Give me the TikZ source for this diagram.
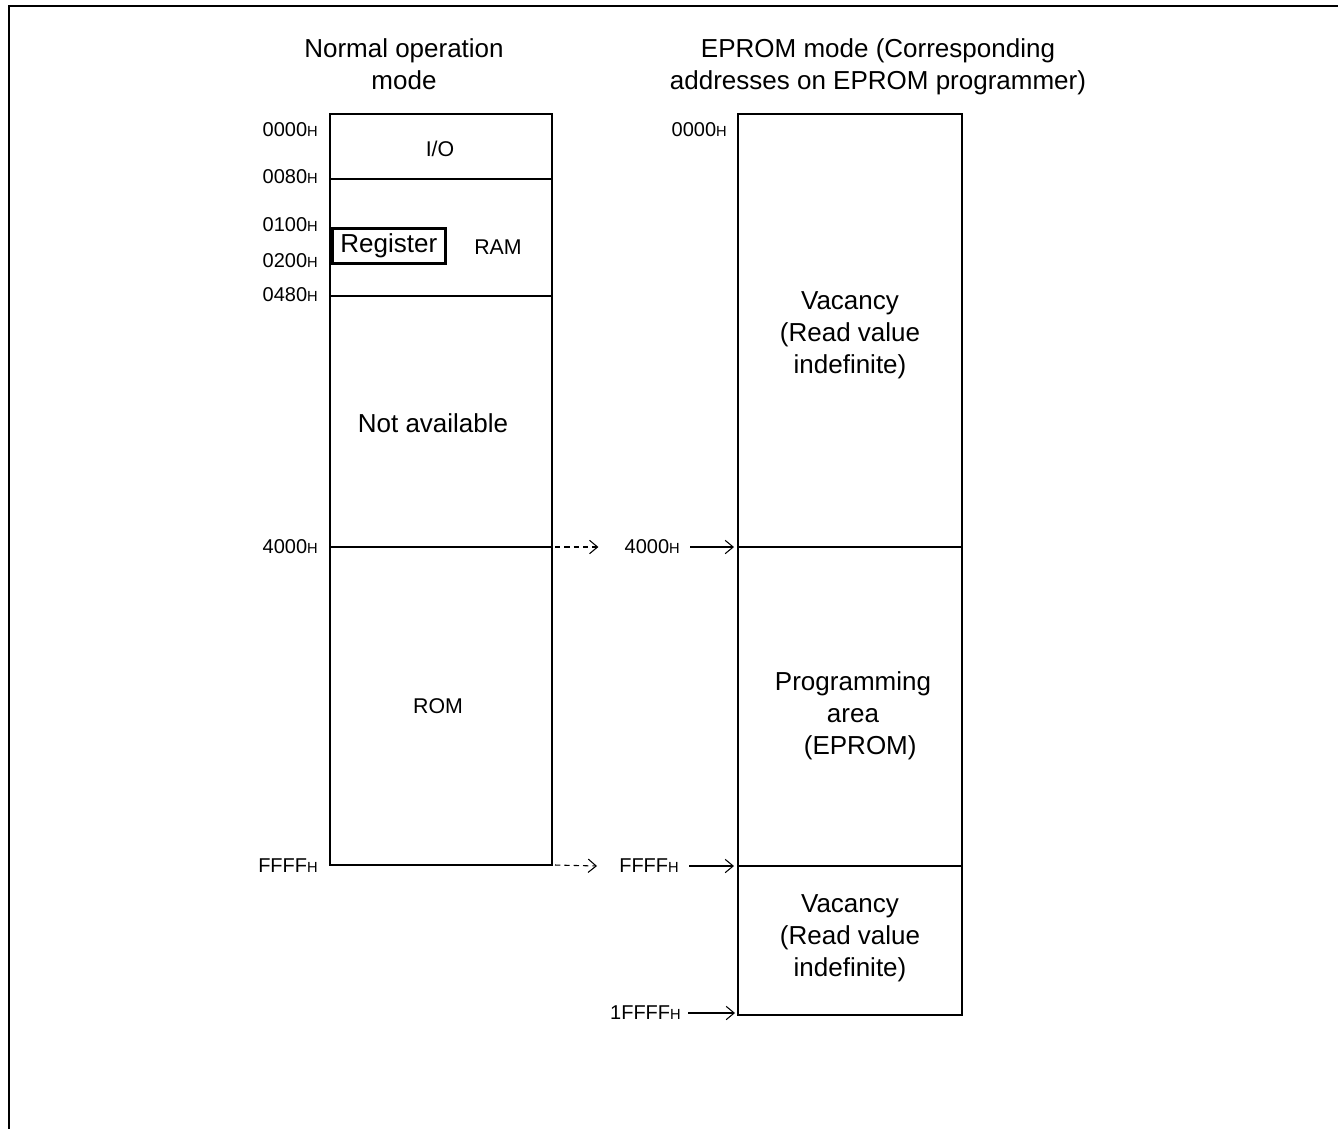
\documentclass[tikz,border=0pt]{standalone}
\usepackage{fontspec}
\setmainfont{Liberation Sans}
\usetikzlibrary{arrows.meta}
\newcommand{\hx}{{\fontsize{11}{11}\selectfont H}}
\tikzset{
  box/.style={line width=1.9pt},
  big/.style={font=\fontsize{19.5}{24}\selectfont, align=center, inner sep=0pt},
  mid/.style={font=\fontsize{16}{19}\selectfont, inner sep=0pt},
  addr/.style={font=\fontsize{15}{15}\selectfont, inner sep=0pt},
  addrL/.style={addr, anchor=east},
  solidarr/.style={line width=0.8pt, -{Straight Barb[length=6pt,width=10pt]}},
  dasharr/.style={line width=0.8pt, dash pattern=on 4pt off 3pt, -{Straight Barb[length=6pt,width=10pt]}},
}
\begin{document}
\begin{tikzpicture}[x=0.75pt,y=-0.75pt]
\useasboundingbox (0,0) rectangle (1338,1128);
% frame
\draw[line width=2.2pt] (9,1130) -- (9,6) -- (1340,6);

% titles
\node[big] (t1) at (404,64) {Normal operation\\mode};
\node[big] (t2) at (878,67) {EPROM mode (Corresponding\\addresses on EPROM programmer)};

% left memory map
\coordinate (L0) at (330,114);
\coordinate (L1) at (552,865);
\draw[box] (L0) rectangle (L1);
\draw[box] (330,179) -- (552,179);
\draw[box] (330,296) -- (552,296);
\draw[box] (330,547) coordinate (La) -- (552,547) coordinate (Lb);
\coordinate (Lc) at (552,865);
\node[draw, line width=1.9pt, minimum width=113*0.75pt, minimum height=35*0.75pt, inner sep=0pt, anchor=north west, font=\fontsize{19.5}{19.5}\selectfont] (reg) at (331,227) {Register};
\node[mid] (io) at (440,149) {I/O};
\node[mid] (ram) at (498,247) {RAM};
\node[big] (na) at (433,423) {Not available};
\node[mid] (rom) at (438,706) {ROM};

% left addresses
\node[addrL] (a1) at (318,130) {0000\hx};
\node[addrL] (a2) at (318,177) {0080\hx};
\node[addrL] (a3) at (318,225) {0100\hx};
\node[addrL] (a4) at (318,261) {0200\hx};
\node[addrL] (a5) at (318,295) {0480\hx};
\node[addrL] (a6) at (318,547) {4000\hx};
\node[addrL] (a7) at (318,866) {FFFF\hx};

% right memory map
\draw[box] (738,114) rectangle (962,1015);
\draw[box] (738,547) coordinate (Ra) -- (962,547);
\draw[box] (738,866) coordinate (Rb) -- (962,866);
\node[big] (v1) at (850,335) {Vacancy\\(Read value\\indefinite)};
\node[big] (pa) at (853,716) {Programming\\area\\\ \ (EPROM)};
\node[big] (v2) at (850,938) {Vacancy\\(Read value\\indefinite)};

% right addresses
\node[addrL] (b1) at (727,130) {0000\hx};
\node[addrL] (b2) at (680,547) {4000\hx};
\node[addrL] (b3) at (679,866) {FFFF\hx};
\node[addrL] (b4) at (681,1013) {1FFFF\hx};

% arrows
\draw[dasharr] ([xshift=3*0.75pt]Lb) -- ([xshift=-26*0.75pt]b2.west);
\draw[dasharr] ([xshift=3*0.75pt]Lc) -- ([xshift=-22*0.75pt]b3.west);
\draw[solidarr] ([xshift=10*0.75pt]b2.east) -- ([xshift=-4*0.75pt]Ra);
\draw[solidarr] ([xshift=10*0.75pt]b3.east) -- ([xshift=-4*0.75pt]Rb);
\draw[solidarr] ([xshift=7*0.75pt]b4.east) -- ([xshift=-3*0.75pt]b4.east -| Rb);
\end{tikzpicture}
\end{document}
